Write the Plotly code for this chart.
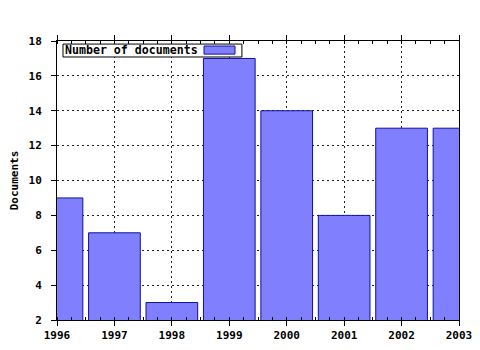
import plotly.graph_objects as go

years = [1996, 1997, 1998, 1999, 2000, 2001, 2002, 2003]
documents = [9, 7, 3, 17, 14, 8, 13, 13]
series_name = "Number of documents"
y_title = "Documents"

FONT = "DejaVu Sans Mono"
grid_dash = "2px,3px"

fig = go.Figure()
fig.add_trace(go.Bar(
    x=years, y=documents, name=series_name, width=0.9,
    marker=dict(color="#8080ff", line=dict(color="#10109a", width=1)),
    showlegend=False,
))

axis_common = dict(
    showline=True, linecolor="black", linewidth=1,
    showgrid=True, gridcolor="#222222", griddash=grid_dash, gridwidth=1,
    zeroline=False, ticks="outside", ticklen=5, tickcolor="black",
    tickfont=dict(family=FONT, size=11, color="black", weight="bold"),
)

fig.update_xaxes(
    range=[1996, 2003], tickmode="array", tickvals=years,
    ticktext=[str(y) for y in years], mirror="allticks",
    minor=dict(ticks="inside", ticklen=3, tickcolor="black", dtick=0.25, showgrid=False),
    **axis_common,
)
fig.update_yaxes(
    range=[2, 18], dtick=2, tick0=2, mirror=True, ticklabelstandoff=7,
    title=dict(text=y_title, font=dict(family=FONT, size=11, color="black", weight="bold"), standoff=7),
    **axis_common,
)

# legend box drawn manually (swatch on right)
fig.add_shape(type="rect", xref="paper", yref="paper", x0=0.0149, x1=0.460, y0=0.9427, y1=0.989,
              line=dict(color="black", width=1), fillcolor="white", layer="above")
fig.add_shape(type="rect", xref="paper", yref="paper", x0=0.3657, x1=0.4428, y0=0.953, y1=0.982,
              line=dict(color="#10109a", width=1), fillcolor="#8080ff", layer="above")
fig.add_annotation(text=series_name, xref="paper", yref="paper", x=0.015, y=0.966,
                   xanchor="left", yanchor="middle", showarrow=False,
                   font=dict(family=FONT, size=11.6, color="black", weight="bold"))

fig.update_layout(
    width=480, height=350,
    margin=dict(l=57, r=21, t=41, b=30, autoexpand=False),
    paper_bgcolor="white", plot_bgcolor="white",
    bargap=0.1,
)

fig.write_html("out.html")
